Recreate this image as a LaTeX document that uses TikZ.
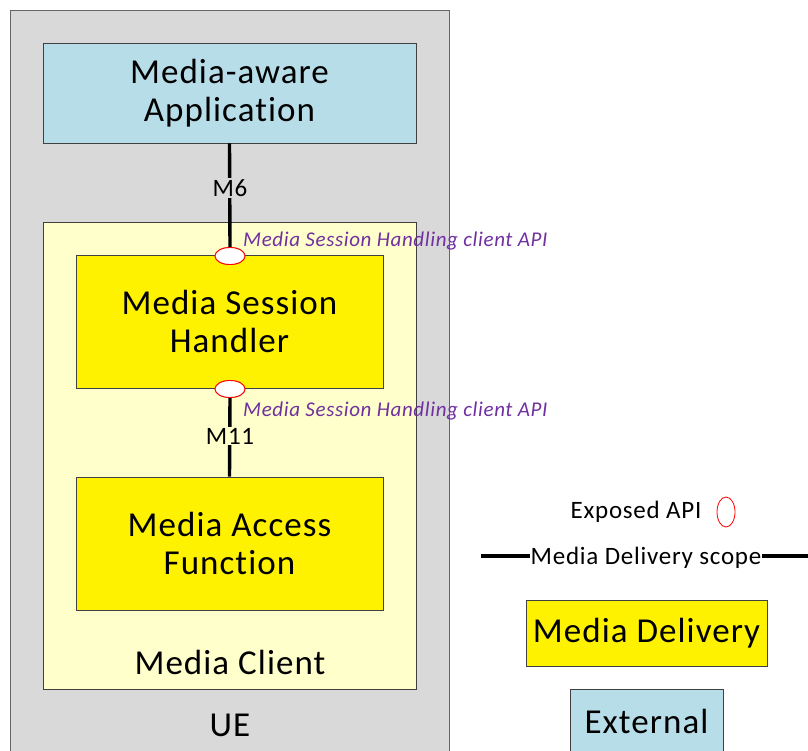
\documentclass[tikz,border=0pt]{standalone}
\usepackage{fontspec}
\setmainfont[LetterSpace=3,Ligatures=NoCommon]{Carlito}
\usetikzlibrary{shapes.geometric}
\definecolor{uegrey}{HTML}{D9D9D9}
\definecolor{clientyellow}{HTML}{FFFFCC}
\definecolor{extblue}{HTML}{B7DDE8}
\definecolor{apipurple}{HTML}{7030A0}
\definecolor{bordergrey}{HTML}{404040}
\tikzset{
  box/.style={draw=bordergrey, line width=0.9pt, rectangle, inner sep=0pt, align=center},
  bigtext/.style={font=\fontsize{35}{38}\selectfont},
  apiellipse/.style={draw=red, fill=white, ellipse, inner sep=0pt, line width=0.9pt},
  iface/.style={line width=3.4pt},
  apilabel/.style={text=apipurple, font=\fontsize{21}{24}\selectfont\itshape, anchor=west, inner sep=0pt},
  ilabel/.style={font=\fontsize{25}{28}\selectfont, inner sep=1pt},
  legtext/.style={font=\fontsize{25}{28}\selectfont, inner sep=1pt},
}
\begin{document}
\begin{tikzpicture}[x=1pt,y=-1pt]
\useasboundingbox (0,0) rectangle (808,751);
% UE
\node[box, draw=bordergrey!80, line width=1.2pt, fill=uegrey, minimum width=439pt, minimum height=780pt, anchor=north west] (ue) at (10,10) {};
\node[font=\fontsize{35}{38}\selectfont] (uelabel) at (230,725) {UE};
% Media Client
\node[box, fill=clientyellow, minimum width=373pt, minimum height=467pt, anchor=north west] (mc) at (43,222) {};
\node[font=\fontsize{35}{38}\selectfont] (mclabel) at (230,662) {Media Client};
% Application
\node[box, fill=extblue, minimum width=373pt, minimum height=100pt, bigtext] (app) at (229.5,93) {Media-aware\\Application};
% MSH
\node[box, fill=yellow, minimum width=307pt, minimum height=133pt, bigtext] (msh) at (229.5,321.5) {Media Session\\Handler};
% MAF
\node[box, fill=yellow, minimum width=307pt, minimum height=133pt, bigtext] (maf) at (229.5,543.5) {Media Access\\Function};
% API ellipses
\node[apiellipse, minimum width=30pt, minimum height=17pt] (e1) at (230,256) {};
\node[apiellipse, minimum width=30pt, minimum height=17pt] (e2) at (230,389) {};
% connectors
\draw[iface] (app.south) -- (e1.north);
\node[ilabel, fill=uegrey] (m6) at (230,188) {M6};
\draw[iface] (e2.south) -- (maf.north);
\node[ilabel, fill=clientyellow] (m11) at (230,436) {M11};
% redraw ellipses on top
\node[apiellipse, minimum width=30pt, minimum height=17pt] at (e1) {};
\node[apiellipse, minimum width=30pt, minimum height=17pt] at (e2) {};
% API labels
\node[apilabel] (api1) at (243,241) {Media Session Handling client API};
\node[apilabel] (api2) at (243,411) {Media Session Handling client API};
% Legend
\node[legtext] (exposed) at (636,512) {Exposed API};
\node[draw=red, ellipse, inner sep=0pt, minimum width=18pt, minimum height=30pt, line width=0.8pt] (legell) at (726,512) {};
\node[legtext] (scope) at (646,558) {Media Delivery scope};
\coordinate (sl) at (481,556);
\coordinate (sr) at (810,556);
\draw[iface] (sl) -- (sl -| scope.west);
\draw[iface] (sr -| scope.east) -- (sr);
\node[box, fill=yellow, minimum width=241pt, minimum height=66pt, bigtext] (md) at (646.5,633) {Media Delivery};
\node[box, fill=extblue, minimum width=153pt, minimum height=80pt, anchor=north west] (ext) at (570,689) {};
\node[font=\fontsize{35}{38}\selectfont] (extlabel) at (646.5,721) {External};
\end{tikzpicture}
\end{document}
